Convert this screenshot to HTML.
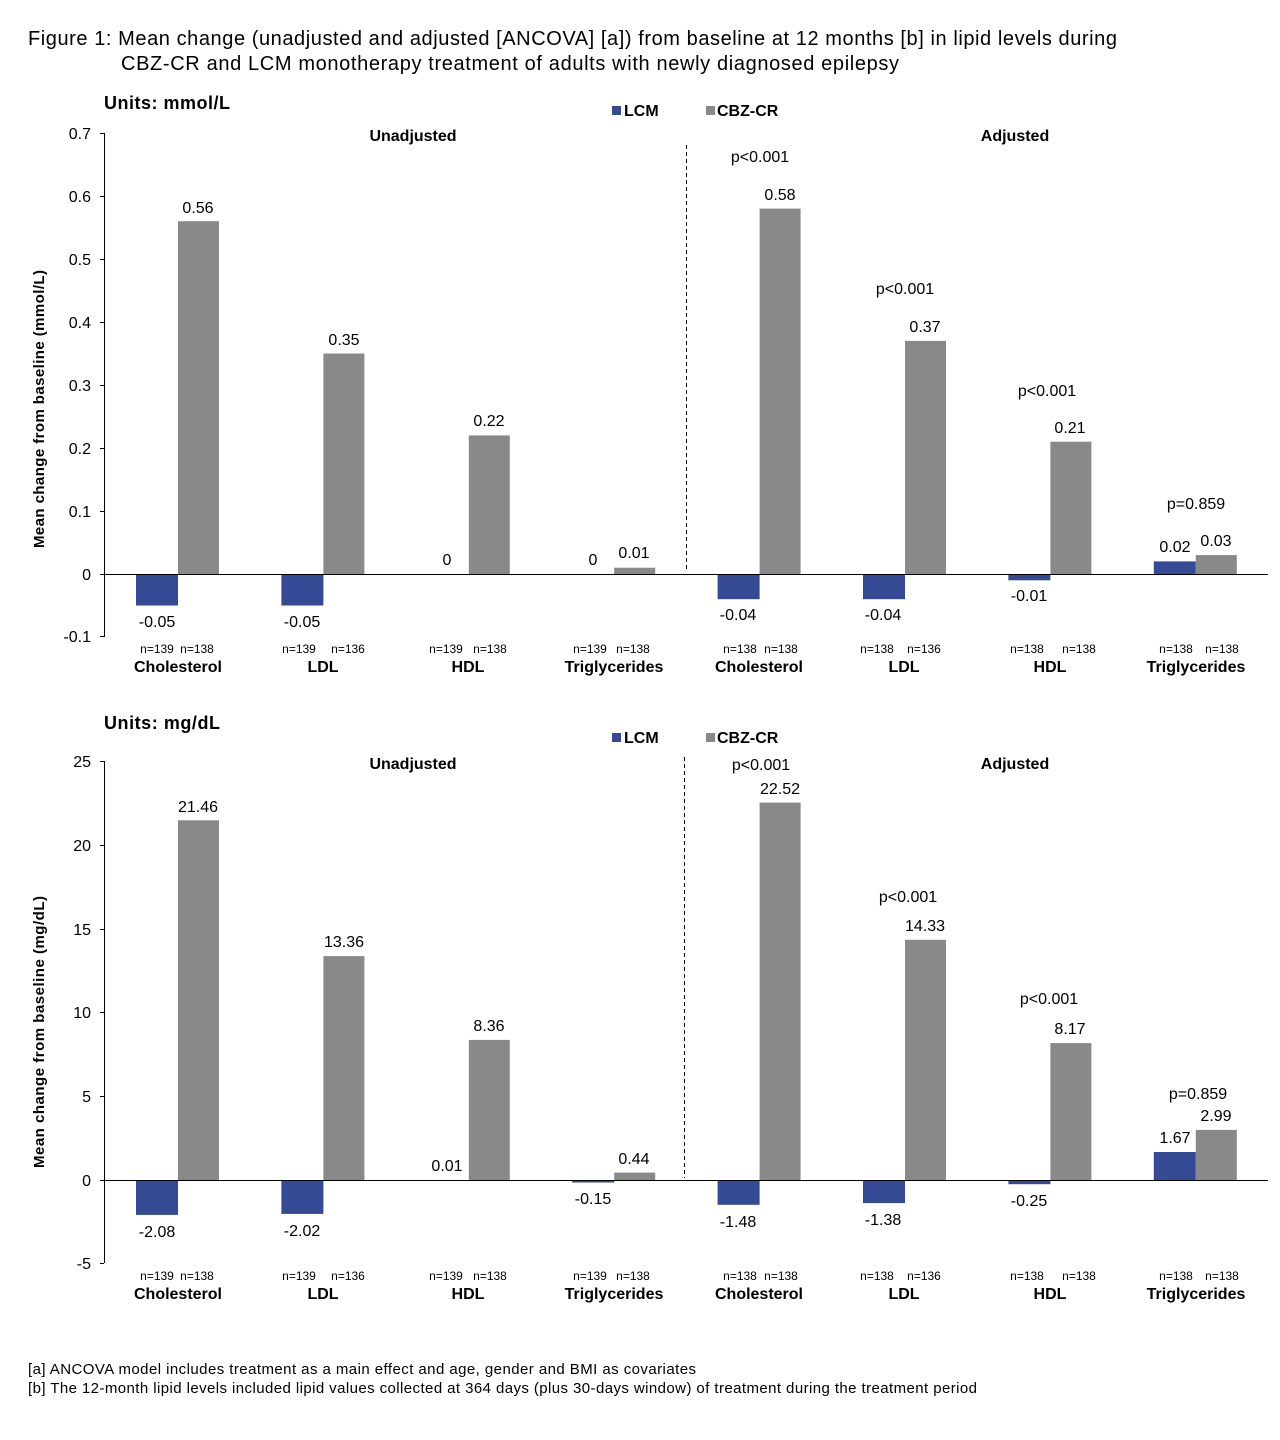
<!DOCTYPE html>
<html><head><meta charset="utf-8"><style>
html,body{margin:0;padding:0;background:#fff;}
svg{display:block;font-family:"Liberation Sans",Arial,sans-serif;}
.v{font-size:16px;text-anchor:middle;fill:#000}
.n{font-size:12px;text-anchor:middle;fill:#000}
.c{font-size:16px;font-weight:bold;text-anchor:middle;fill:#000}
.t{font-size:16px;text-anchor:end;fill:#000}
.b{fill:#344A94}.g{fill:#898989}
</style></head><body>
<svg width="1280" height="1440" viewBox="0 0 1280 1440">
<text x="28" y="45" font-size="20" textLength="1089" lengthAdjust="spacing">Figure 1: Mean change (unadjusted  and adjusted  [ANCOVA]  [a]) from baseline at 12 months  [b] in lipid levels during</text>
<text x="121" y="70" font-size="20" textLength="778" lengthAdjust="spacing">CBZ-CR and LCM monotherapy  treatment  of adults with newly diagnosed  epilepsy</text>

<!-- TOP CHART -->
<text x="104" y="109" font-size="18" font-weight="bold" textLength="126">Units: mmol/L</text>
<rect x="612" y="106" width="9" height="9" class="b"/><text x="624" y="116" font-size="16" font-weight="bold">LCM</text>
<rect x="706" y="106" width="9" height="9" class="g"/><text x="717" y="116" font-size="16" font-weight="bold">CBZ-CR</text>
<text class="c" x="413" y="141">Unadjusted</text>
<text class="c" x="1015" y="141">Adjusted</text>
<text transform="translate(44,409) rotate(-90)" font-size="15" font-weight="bold" text-anchor="middle" textLength="278">Mean change from baseline (mmol/L)</text>
<g stroke="#000" stroke-width="1">
<line x1="104.5" y1="133" x2="104.5" y2="637"/>
<line x1="100" y1="133.5" x2="104" y2="133.5"/><line x1="100" y1="196.5" x2="104" y2="196.5"/><line x1="100" y1="259.5" x2="104" y2="259.5"/><line x1="100" y1="322.5" x2="104" y2="322.5"/><line x1="100" y1="385.5" x2="104" y2="385.5"/><line x1="100" y1="448.5" x2="104" y2="448.5"/><line x1="100" y1="511.5" x2="104" y2="511.5"/><line x1="100" y1="574.5" x2="104" y2="574.5"/><line x1="100" y1="636.5" x2="104" y2="636.5"/>
<line x1="686.5" y1="145" x2="686.5" y2="572" stroke-dasharray="4,3"/>
</g>
<text class="t" x="91" y="139">0.7</text><text class="t" x="91" y="202">0.6</text><text class="t" x="91" y="265">0.5</text><text class="t" x="91" y="328">0.4</text><text class="t" x="91" y="391">0.3</text><text class="t" x="91" y="454">0.2</text><text class="t" x="91" y="517">0.1</text><text class="t" x="91" y="580">0</text><text class="t" x="91" y="642">-0.1</text>
<rect class="b" x="136" y="574" width="42" height="31.5"/><rect class="g" x="178" y="221.2" width="41" height="352.8"/>
<rect class="b" x="281.4" y="574" width="42" height="31.5"/><rect class="g" x="323.4" y="353.5" width="41" height="220.5"/>
<rect class="g" x="468.8" y="435.4" width="41" height="138.6"/>
<rect class="g" x="614.2" y="567.7" width="41" height="6.3"/>
<rect class="b" x="717.6" y="574" width="42" height="25.2"/><rect class="g" x="759.6" y="208.6" width="41" height="365.4"/>
<rect class="b" x="863" y="574" width="42" height="25.2"/><rect class="g" x="905" y="340.9" width="41" height="233.1"/>
<rect class="b" x="1008.4" y="574" width="42" height="6.3"/><rect class="g" x="1050.4" y="441.7" width="41" height="132.3"/>
<rect class="b" x="1153.8" y="561.4" width="42" height="12.6"/><rect class="g" x="1195.8" y="555.1" width="41" height="18.9"/>
<line x1="104" y1="574.5" x2="1268" y2="574.5" stroke="#000"/>
<text class="v" x="198" y="213">0.56</text><text class="v" x="344" y="345">0.35</text><text class="v" x="489" y="426">0.22</text><text class="v" x="634" y="558">0.01</text>
<text class="v" x="780" y="200">0.58</text><text class="v" x="925" y="332">0.37</text><text class="v" x="1070" y="433">0.21</text><text class="v" x="1216" y="546">0.03</text>
<text class="v" x="1175" y="552">0.02</text>
<text class="v" x="447" y="565">0</text><text class="v" x="593" y="565">0</text>
<text class="v" x="157" y="627">-0.05</text><text class="v" x="302" y="627">-0.05</text><text class="v" x="738" y="620">-0.04</text><text class="v" x="883" y="620">-0.04</text><text class="v" x="1029" y="601">-0.01</text>
<text class="v" x="760" y="162">p&lt;0.001</text><text class="v" x="905" y="294">p&lt;0.001</text><text class="v" x="1047" y="396">p&lt;0.001</text><text class="v" x="1196" y="509">p=0.859</text>
<text class="n" x="157" y="653">n=139</text><text class="n" x="197" y="653">n=138</text>
<text class="n" x="299" y="653">n=139</text><text class="n" x="348" y="653">n=136</text>
<text class="n" x="446" y="653">n=139</text><text class="n" x="490" y="653">n=138</text>
<text class="n" x="590" y="653">n=139</text><text class="n" x="633" y="653">n=138</text>
<text class="n" x="740" y="653">n=138</text><text class="n" x="781" y="653">n=138</text>
<text class="n" x="877" y="653">n=138</text><text class="n" x="924" y="653">n=136</text>
<text class="n" x="1027" y="653">n=138</text><text class="n" x="1079" y="653">n=138</text>
<text class="n" x="1176" y="653">n=138</text><text class="n" x="1222" y="653">n=138</text>
<text class="c" x="178" y="672">Cholesterol</text><text class="c" x="323" y="672">LDL</text><text class="c" x="468" y="672">HDL</text><text class="c" x="614" y="672">Triglycerides</text>
<text class="c" x="759" y="672">Cholesterol</text><text class="c" x="904" y="672">LDL</text><text class="c" x="1050" y="672">HDL</text><text class="c" x="1196" y="672">Triglycerides</text>

<!-- BOTTOM CHART -->
<text x="104" y="729" font-size="18" font-weight="bold" textLength="116">Units: mg/dL</text>
<rect x="612" y="733" width="9" height="9" class="b"/><text x="624" y="743" font-size="16" font-weight="bold">LCM</text>
<rect x="706" y="733" width="9" height="9" class="g"/><text x="717" y="743" font-size="16" font-weight="bold">CBZ-CR</text>
<text class="c" x="413" y="769">Unadjusted</text>
<text class="c" x="1015" y="769">Adjusted</text>
<text transform="translate(44,1032) rotate(-90)" font-size="15" font-weight="bold" text-anchor="middle" textLength="272">Mean change from baseline (mg/dL)</text>
<g stroke="#000" stroke-width="1">
<line x1="104.5" y1="761" x2="104.5" y2="1263"/>
<line x1="100" y1="761.5" x2="104" y2="761.5"/><line x1="100" y1="845.5" x2="104" y2="845.5"/><line x1="100" y1="929.5" x2="104" y2="929.5"/><line x1="100" y1="1012.5" x2="104" y2="1012.5"/><line x1="100" y1="1096.5" x2="104" y2="1096.5"/><line x1="100" y1="1180.5" x2="104" y2="1180.5"/><line x1="100" y1="1263.5" x2="104" y2="1263.5"/>
<line x1="684.5" y1="757" x2="684.5" y2="1178" stroke-dasharray="4,3"/>
</g>
<text class="t" x="91" y="767">25</text><text class="t" x="91" y="851">20</text><text class="t" x="91" y="935">15</text><text class="t" x="91" y="1018">10</text><text class="t" x="91" y="1102">5</text><text class="t" x="91" y="1186">0</text><text class="t" x="91" y="1269">-5</text>
<rect class="b" x="136" y="1180" width="42" height="34.9"/><rect class="g" x="178" y="820.3" width="41" height="359.7"/>
<rect class="b" x="281.4" y="1180" width="42" height="33.9"/><rect class="g" x="323.4" y="956.1" width="41" height="223.9"/>
<rect class="g" x="468.8" y="1039.9" width="41" height="140.1"/>
<rect class="b" x="572.2" y="1180" width="42" height="2.5"/><rect class="g" x="614.2" y="1172.6" width="41" height="7.4"/>
<rect class="b" x="717.6" y="1180" width="42" height="24.8"/><rect class="g" x="759.6" y="802.6" width="41" height="377.4"/>
<rect class="b" x="863" y="1180" width="42" height="23.1"/><rect class="g" x="905" y="939.8" width="41" height="240.2"/>
<rect class="b" x="1008.4" y="1180" width="42" height="4.2"/><rect class="g" x="1050.4" y="1043.1" width="41" height="136.9"/>
<rect class="b" x="1153.8" y="1152" width="42" height="28"/><rect class="g" x="1195.8" y="1129.9" width="41" height="50.1"/>
<line x1="104" y1="1180.5" x2="1268" y2="1180.5" stroke="#000"/>
<text class="v" x="198" y="812">21.46</text><text class="v" x="344" y="947">13.36</text><text class="v" x="489" y="1031">8.36</text><text class="v" x="634" y="1164">0.44</text>
<text class="v" x="780" y="794">22.52</text><text class="v" x="925" y="931">14.33</text><text class="v" x="1070" y="1034">8.17</text><text class="v" x="1216" y="1121">2.99</text>
<text class="v" x="1175" y="1143">1.67</text><text class="v" x="447" y="1171">0.01</text>
<text class="v" x="157" y="1237">-2.08</text><text class="v" x="302" y="1236">-2.02</text><text class="v" x="593" y="1204">-0.15</text><text class="v" x="738" y="1227">-1.48</text><text class="v" x="883" y="1225">-1.38</text><text class="v" x="1029" y="1206">-0.25</text>
<text class="v" x="761" y="770">p&lt;0.001</text><text class="v" x="908" y="902">p&lt;0.001</text><text class="v" x="1049" y="1004">p&lt;0.001</text><text class="v" x="1198" y="1099">p=0.859</text>
<text class="n" x="157" y="1280">n=139</text><text class="n" x="197" y="1280">n=138</text>
<text class="n" x="299" y="1280">n=139</text><text class="n" x="348" y="1280">n=136</text>
<text class="n" x="446" y="1280">n=139</text><text class="n" x="490" y="1280">n=138</text>
<text class="n" x="590" y="1280">n=139</text><text class="n" x="633" y="1280">n=138</text>
<text class="n" x="740" y="1280">n=138</text><text class="n" x="781" y="1280">n=138</text>
<text class="n" x="877" y="1280">n=138</text><text class="n" x="924" y="1280">n=136</text>
<text class="n" x="1027" y="1280">n=138</text><text class="n" x="1079" y="1280">n=138</text>
<text class="n" x="1176" y="1280">n=138</text><text class="n" x="1222" y="1280">n=138</text>
<text class="c" x="178" y="1299">Cholesterol</text><text class="c" x="323" y="1299">LDL</text><text class="c" x="468" y="1299">HDL</text><text class="c" x="614" y="1299">Triglycerides</text>
<text class="c" x="759" y="1299">Cholesterol</text><text class="c" x="904" y="1299">LDL</text><text class="c" x="1050" y="1299">HDL</text><text class="c" x="1196" y="1299">Triglycerides</text>

<text x="28" y="1374" font-size="15" textLength="668" lengthAdjust="spacing">[a] ANCOVA model includes treatment as a main effect and age, gender and BMI as covariates</text>
<text x="28" y="1393" font-size="15" textLength="949" lengthAdjust="spacing">[b] The 12-month lipid levels included lipid values collected at 364 days (plus 30-days window) of treatment during the treatment period</text>
</svg>
</body></html>
